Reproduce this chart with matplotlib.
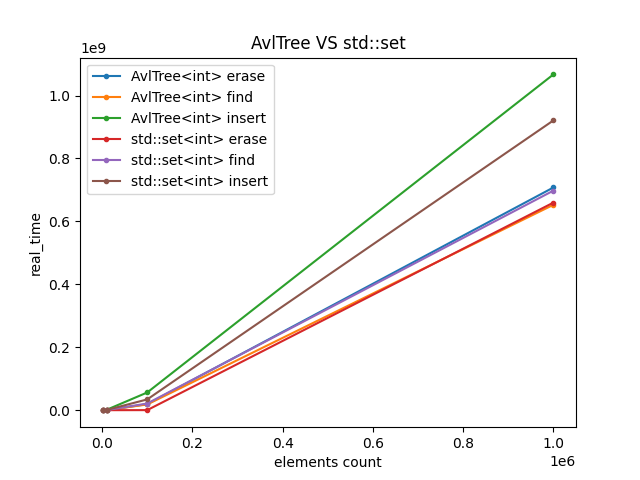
import matplotlib
matplotlib.use("Agg")
from matplotlib import pyplot as plt

# elements count
elements = [1000, 10000, 100000, 1000000]

# real_time per series
avl_erase = [1.0e5, 1.0e6, 2.0e7, 7.08e8]
avl_find = [1.0e5, 9.0e5, 1.9e7, 6.53e8]
avl_insert = [1.5e5, 2.0e6, 5.7e7, 1.067e9]
set_erase = [1.0e5, 8.0e5, 1.0e6, 6.60e8]
set_find = [1.0e5, 1.0e6, 2.2e7, 6.98e8]
set_insert = [1.2e5, 1.5e6, 3.5e7, 9.21e8]

series = [
    ("AvlTree<int> erase", avl_erase),
    ("AvlTree<int> find", avl_find),
    ("AvlTree<int> insert", avl_insert),
    ("std::set<int> erase", set_erase),
    ("std::set<int> find", set_find),
    ("std::set<int> insert", set_insert),
]

fig = plt.figure(figsize=(6.4, 4.8), dpi=100)
for label, values in series:
    plt.plot(elements, values, marker='o', ms=3, label=label)
plt.legend(loc="upper left")
plt.xlabel("elements count")
plt.ylabel("real_time")
plt.title("AvlTree VS std::set")
plt.savefig("out.png", dpi=100)
plt.close()
